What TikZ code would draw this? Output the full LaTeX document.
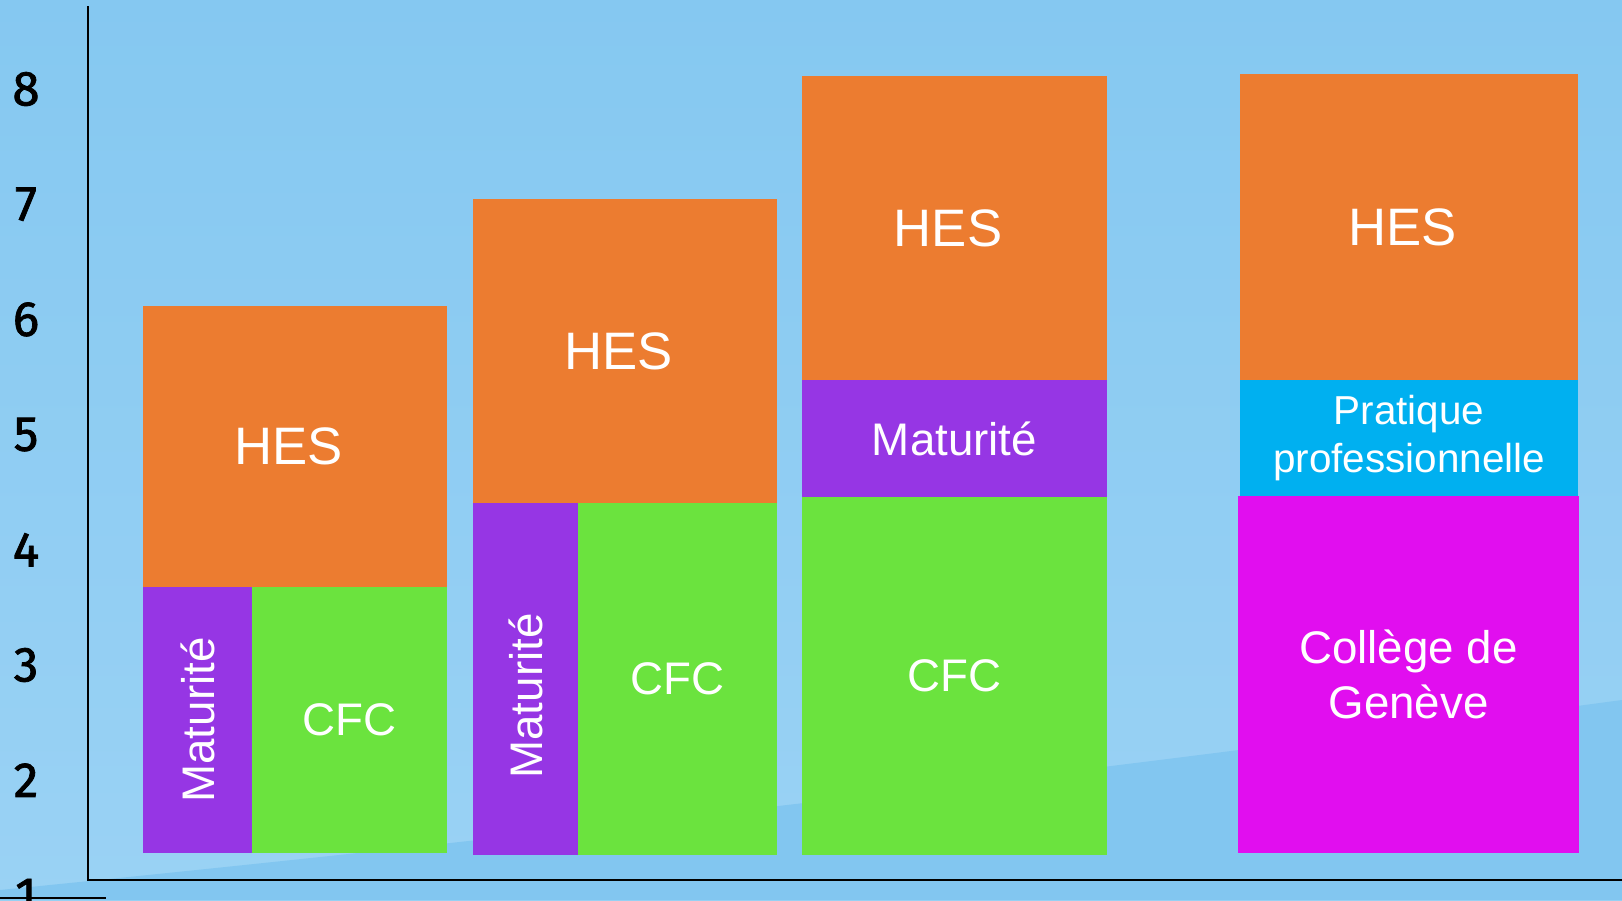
\documentclass[tikz,border=0pt]{standalone}
\usepackage{fontspec}
\setmainfont{Liberation Sans}
\newfontfamily\axisfont{Fira Sans}[FakeBold=1.6]
\usepackage{tikz}
\definecolor{skytop}{HTML}{85C8F1}
\definecolor{skylow}{HTML}{9AD2F4}
\definecolor{skydark}{HTML}{82C6F0}
\definecolor{hesorange}{HTML}{EC7C30}
\definecolor{matpurple}{HTML}{9636E4}
\definecolor{cfcgreen}{HTML}{6BE33E}
\definecolor{pratblue}{HTML}{00B0F0}
\definecolor{colmagenta}{HTML}{E10EEF}

\begin{document}
\begin{tikzpicture}[x=0.2mm,y=-0.2mm]
        \tikzstyle{every node}=[inner sep=0pt, outer sep=0pt, text=white, font=\fontsize{26}{31}\selectfont]
        \tikzstyle{box}=[rectangle, anchor=north west, align=center]
        \tikzstyle{hes}=[box, fill=hesorange, font=\fontsize{30}{36}\selectfont]
        \tikzstyle{tick}=[text=black, font=\axisfont\fontsize{28}{30}\selectfont]
        \useasboundingbox (0,0) rectangle (1622,900);
        \shade[top color=skytop, bottom color=skylow] (0,0) rectangle (1622,900);
        \fill[skydark] (0,890) .. controls (600,830) and (1100,770) .. (1622,700) -- (1622,900) -- (0,900) -- cycle;
        \node[hes, minimum width=60.8mm, minimum height=56.2mm] (hes1) at (143,306) {HES\hspace*{2.6mm}};
        \node[box, fill=matpurple, minimum width=21.8mm, minimum height=53.2mm] (mat1) at (143,587) {};
        \node[box, fill=cfcgreen, minimum width=39mm, minimum height=53.2mm] (cfc1) at (252,587) {CFC};
        \node[hes, minimum width=60.8mm, minimum height=60.8mm] (hes2) at (473,199) {HES\hspace*{2.6mm}};
        \node[box, fill=matpurple, minimum width=21mm, minimum height=70.4mm] (mat2) at (473,503) {};
        \node[box, fill=cfcgreen, minimum width=39.8mm, minimum height=70.4mm] (cfc2) at (578,503) {CFC};
        \node[hes, minimum width=61mm, minimum height=60.8mm] (hes3) at (802,76) {HES\hspace*{2.6mm}};
        \node[box, fill=matpurple, minimum width=61mm, minimum height=23.4mm] (mat3) at (802,380) {Maturité};
        \node[box, fill=cfcgreen, minimum width=61mm, minimum height=71.6mm] (cfc3) at (802,497) {CFC};
        \node[hes, minimum width=67.6mm, minimum height=61.2mm] (hes4) at (1240,74) {HES\hspace*{2.6mm}};
        \node[box, fill=pratblue, minimum width=67.6mm, minimum height=23.2mm, font=\fontsize{23}{27}\selectfont] (prat4) at (1240,380) {Pratique\\professionnelle};
        \node[box, fill=colmagenta, minimum width=68.2mm, minimum height=71.4mm] (col4) at (1238,496) {Collège de\\Genève};
        \node[rotate=90] (tmat1) at (mat1.center) {Maturité};
        \node[rotate=90] (tmat2) at ([yshift=-3.4mm]mat2.center) {Maturité};
        \coordinate (top) at (88,6);
        \coordinate (origin) at (88,880);
        \coordinate (right) at (1622,880);
        \draw[line width=0.3mm] (top) -- (origin) -- (right);
        \coordinate (base0) at (0,898);
        \coordinate (base1) at (106,898);
        \draw[line width=0.3mm] (base0) -- (base1);
        \foreach \k in {1,...,8}
            \node[tick] (tick\k) at (26,{89+(8-\k)*115.2}) {\k};
    \end{tikzpicture}
\end{document}
